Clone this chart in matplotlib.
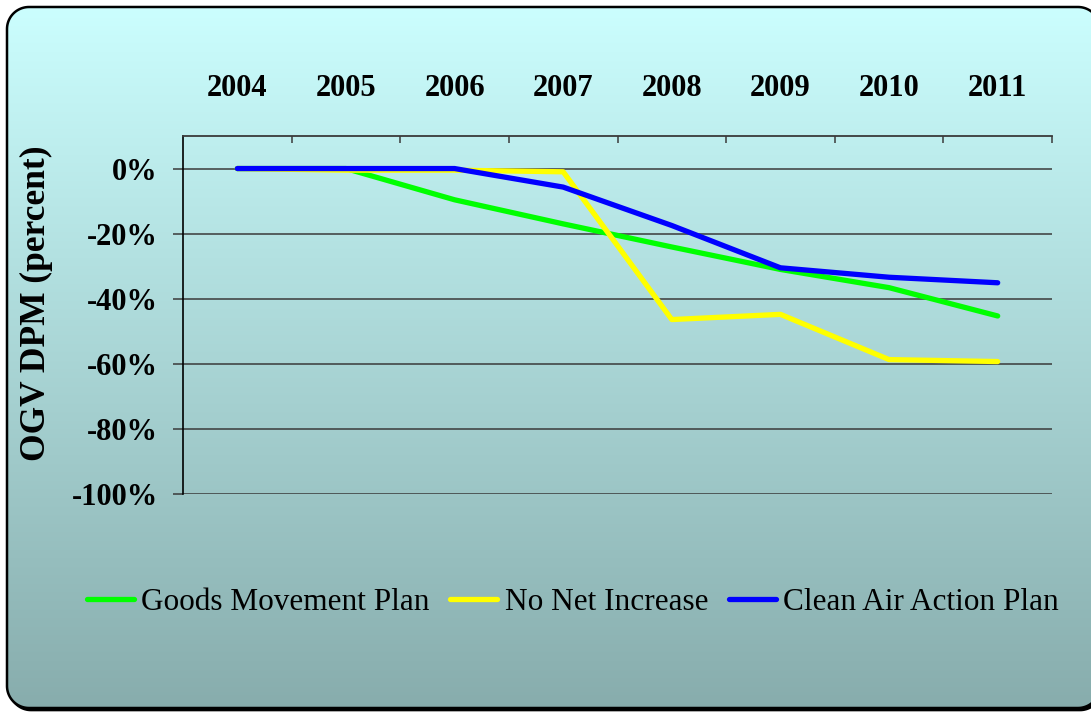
import numpy as np
import matplotlib
matplotlib.use("Agg")
import matplotlib.pyplot as plt
from matplotlib.patches import PathPatch
from matplotlib.path import Path
from matplotlib.lines import Line2D

# ---- data ----
years = ["2004", "2005", "2006", "2007", "2008", "2009", "2010", "2011"]
goods_movement = [0.0, 0.0, -9.6, -17.0, -24.1, -31.0, -36.6, -45.3]
no_net_increase = [0.0, -0.5, -0.5, -1.0, -46.4, -44.8, -58.7, -59.3]
clean_air_action = [0.0, 0.0, 0.0, -5.7, -17.5, -30.5, -33.4, -35.1]
series_names = ["Goods Movement Plan", "No Net Increase", "Clean Air Action Plan"]
y_ticks = [0, -20, -40, -60, -80, -100]
y_tick_labels = ["0%", "-20%", "-40%", "-60%", "-80%", "-100%"]

W, H = 1091, 713
SERIF = "Liberation Serif"


def rounded_rect(xa, ya, xb, yb, r, n=24):
    """Closed path of a rectangle with circular corners (pixel units, y up)."""
    pts = []
    corners = [(xb - r, yb - r, 0), (xa + r, yb - r, 90),
               (xa + r, ya + r, 180), (xb - r, ya + r, 270)]
    for cx, cy, a0 in corners:
        ang = np.radians(np.linspace(a0, a0 + 90, n))
        pts.extend(zip(cx + r * np.cos(ang), cy + r * np.sin(ang)))
    pts.append(pts[0])
    codes = [Path.MOVETO] + [Path.LINETO] * (len(pts) - 2) + [Path.CLOSEPOLY]
    return Path(np.array(pts), codes)


fig = plt.figure(figsize=(W / 100, H / 100), dpi=100)
fig.patch.set_facecolor("white")

# ---- background panel: rounded box with vertical gradient ----
bg = fig.add_axes([0, 0, 1, 1], zorder=0)
bg.axis("off")

# box edges in pixels from the top-left corner
bx0, by0, bx1, by1, rad = 7, 7, 1100, 708, 22
panel = rounded_rect(bx0, H - by1, bx1, H - by0, rad)
shadow_path = rounded_rect(bx0 + 2, H - by1 - 2.5, bx1 + 2, H - by0 - 2.5, rad)

bg.add_patch(PathPatch(shadow_path, facecolor="black", edgecolor="black",
                       lw=1.2, zorder=1))

top_col = np.array([204, 255, 255]) / 255.0
bot_col = np.array([135, 172, 172]) / 255.0
t = np.linspace(0, 1, H)[:, None]
grad = np.repeat((top_col[None, :] * (1 - t) + bot_col[None, :] * t)[:, None, :], 4, axis=1)
img = bg.imshow(grad, extent=[-20, W + 20, 0, H], origin="upper", aspect="auto",
                interpolation="nearest", zorder=2)
panel_patch = PathPatch(panel, facecolor="none", edgecolor="black", lw=1.8, zorder=3)
bg.add_patch(panel_patch)
img.set_clip_path(PathPatch(panel, transform=bg.transData))
bg.set_xlim(0, W)
bg.set_ylim(0, H)

# ---- main chart ----
left, right, top, bottom = 183, 1052, 136, 494
ax = fig.add_axes([left / W, 1 - bottom / H, (right - left) / W, (bottom - top) / H],
                  zorder=2)
ax.set_facecolor("none")

x = np.arange(len(years))
colors = ["#00FF00", "#FFFF00", "#0000FF"]
for vals, col, name in zip([goods_movement, no_net_increase, clean_air_action],
                           colors, series_names):
    ax.plot(x, vals, color=col, lw=3.8, solid_capstyle="round",
            solid_joinstyle="round", label=name, zorder=3)

ax.set_xlim(-0.5, len(years) - 0.5)
ax.set_ylim(-100, 10)

# horizontal gridlines
for yv in y_ticks:
    ax.axhline(yv, color="#3a3a3a", lw=1.1, zorder=1)

# category axis along the top
ax.xaxis.tick_top()
ax.set_xticks(x)
ax.set_xticklabels(years, fontfamily=SERIF, fontweight="bold", fontsize=22)
ax.set_xticks(np.arange(0.5, len(years), 1.0), minor=True)
ax.tick_params(axis="x", which="major", length=0, pad=24)
ax.tick_params(axis="x", which="minor", direction="in", length=5,
               width=1.1, color="#3a3a3a", top=True, bottom=False)

ax.set_yticks(y_ticks)
ax.set_yticklabels(y_tick_labels, fontfamily=SERIF, fontweight="bold", fontsize=22)
ax.tick_params(axis="y", direction="out", length=7.2, width=1.1,
               color="#3a3a3a", pad=11)

for side in ["right", "bottom"]:
    ax.spines[side].set_visible(False)
ax.spines["left"].set_color("black")
ax.spines["left"].set_linewidth(1.2)
ax.spines["top"].set_color("#3a3a3a")
ax.spines["top"].set_linewidth(1.3)

fig.text(36 / W, 1 - 303 / H, "OGV DPM (percent)", rotation=90,
         ha="center", va="center", fontfamily=SERIF, fontweight="bold",
         fontsize=25.5)

handles = [Line2D([], [], color=c, lw=3.8, solid_capstyle="round") for c in colors]
fig.legend(handles, series_names, loc="center", bbox_to_anchor=(573 / W, 1 - 602 / H),
           ncol=3, frameon=False, handlelength=1.5, handletextpad=0.25,
           columnspacing=0.65, prop={"family": SERIF, "size": 22.5})

fig.savefig("out.png", dpi=100)
